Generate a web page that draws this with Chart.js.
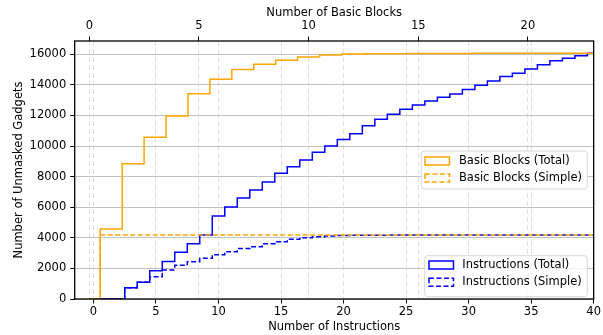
<!DOCTYPE html>
<html>
<head>
<meta charset="utf-8">
<script src="https://cdn.jsdelivr.net/npm/chart.js@4/dist/chart.umd.min.js"></script>
<style>
  html, body { margin: 0; padding: 0; background: #fff; }
</style>
</head>
<body>
<canvas id="chart" width="603" height="335"></canvas>
<script>
// Basic blocks per gadget (top axis)
const blockCounts = [0, 1, 2, 3, 4, 5, 6, 7, 8, 9, 10, 11, 12, 13, 14, 15, 16, 17, 18, 19, 20, 21, 22, 23];
const blocksTotal = [0, 4570, 8850, 10570, 11960, 13420, 14370, 15000, 15350, 15610, 15820, 15950, 16010,
  16030, 16040, 16045, 16050, 16055, 16058, 16060, 16062, 16063, 16064, 16064];
const blocksSimple = [0, 4185, 4185, 4185, 4185, 4185, 4185, 4185, 4185, 4185, 4185, 4185, 4185,
  4185, 4185, 4185, 4185, 4185, 4185, 4185, 4185, 4185, 4185, 4185];

// Instructions per gadget (bottom axis)
const instrCounts = [0, 1, 2, 3, 4, 5, 6, 7, 8, 9, 10, 11, 12, 13, 14, 15, 16, 17, 18, 19, 20,
  21, 22, 23, 24, 25, 26, 27, 28, 29, 30, 31, 32, 33, 34, 35, 36, 37, 38, 39, 40];
const instrTotal = [0, 0, 0, 740, 1100, 1840, 2450, 3050, 3620, 4185, 5430, 6020, 6600, 7130, 7650,
  8220, 8650, 9090, 9590, 10010, 10420, 10810, 11330, 11750, 12080, 12400, 12690, 12950, 13190,
  13400, 13690, 13970, 14250, 14540, 14760, 15040, 15320, 15580, 15740, 15910, 16064];
const instrSimple = [0, 0, 0, 740, 1100, 1460, 1896, 2200, 2441, 2660, 2900, 3095, 3300, 3422, 3620,
  3750, 3900, 4010, 4076, 4120, 4145, 4160, 4170, 4175, 4180, 4185, 4185, 4185, 4185, 4185,
  4185, 4185, 4185, 4185, 4185, 4185, 4185, 4185, 4185, 4185, 4185];

// tick values
const instrTicks = [0, 5, 10, 15, 20, 25, 30, 35, 40];
const blockTicks = [0, 5, 10, 15, 20];
const gadgetTicks = [0, 2000, 4000, 6000, 8000, 10000, 12000, 14000, 16000];

const FONT = { family: "'DejaVu Sans'", size: 11.5 };

const toPoints = (xs, ys) => xs.map((x, i) => ({ x: x, y: ys[i] }));
const fixTicks = vals => scale => { scale.ticks = vals.map(v => ({ value: v })); };
const plain = v => String(v);

// black frame around the plot, like matplotlib spines
const frame = {
  id: "frame",
  afterDatasetsDraw(chart) {
    const { ctx, chartArea: a } = chart;
    ctx.save();
    ctx.strokeStyle = "#000";
    ctx.lineWidth = 1.3;
    ctx.strokeRect(a.left, a.top, a.right - a.left, a.bottom - a.top);
    ctx.restore();
  }
};

// two separate legend boxes drawn inside the plot
const legendBoxes = {
  id: "legendBoxes",
  afterDraw(chart, args, opts) {
    const { ctx, chartArea: a } = chart;
    opts.boxes.forEach(b => {
      const x = a.right - b.right - b.width;
      const y = b.top != null ? a.top + b.top : a.bottom - b.bottom - b.height;
      ctx.save();
      ctx.beginPath();
      const r = 3;
      ctx.moveTo(x + r, y);
      ctx.arcTo(x + b.width, y, x + b.width, y + b.height, r);
      ctx.arcTo(x + b.width, y + b.height, x, y + b.height, r);
      ctx.arcTo(x, y + b.height, x, y, r);
      ctx.arcTo(x, y, x + b.width, y, r);
      ctx.closePath();
      ctx.fillStyle = "rgba(255,255,255,0.8)";
      ctx.fill();
      ctx.strokeStyle = "#d6d6d6";
      ctx.lineWidth = 1;
      ctx.stroke();

      b.datasets.forEach((di, row) => {
        const ds = chart.data.datasets[di];
        const cy = y + b.rowY[row];
        ctx.strokeStyle = ds.borderColor;
        ctx.lineWidth = ds.borderWidth;
        ctx.setLineDash(ds.borderDash || []);
        ctx.strokeRect(x + b.handleX, cy - 4, 24.5, 8);
        ctx.setLineDash([]);
        ctx.fillStyle = "#000";
        ctx.font = "11.5px 'DejaVu Sans'";
        ctx.textBaseline = "middle";
        ctx.fillText(ds.label, x + b.textX, cy);
      });
      ctx.restore();
    });
  }
};

const ctx = document.getElementById("chart").getContext("2d");

new Chart(ctx, {
  type: "line",
  data: {
    datasets: [
      {
        label: "Basic Blocks (Total)",
        data: toPoints(blockCounts, blocksTotal),
        xAxisID: "x2",
        borderColor: "#ffa500",
        borderWidth: 1.5,
        stepped: "middle",
        pointRadius: 0,
      },
      {
        label: "Basic Blocks (Simple)",
        data: toPoints(blockCounts, blocksSimple),
        xAxisID: "x2",
        borderColor: "#ffa500",
        borderWidth: 1.5,
        borderDash: [5, 2.5],
        stepped: "middle",
        pointRadius: 0,
      },
      {
        label: "Instructions (Total)",
        data: toPoints(instrCounts, instrTotal),
        xAxisID: "x",
        borderColor: "#0000ff",
        borderWidth: 1.5,
        stepped: "middle",
        pointRadius: 0,
      },
      {
        label: "Instructions (Simple)",
        data: toPoints(instrCounts, instrSimple),
        xAxisID: "x",
        borderColor: "#0000ff",
        borderWidth: 1.5,
        borderDash: [5, 2.5],
        stepped: "middle",
        pointRadius: 0,
      },
    ],
  },
  options: {
    responsive: false,
    animation: false,
    devicePixelRatio: 1,
    layout: { padding: { left: 0, top: 0, right: 8.3, bottom: 0 } },
    scales: {
      x: {
        type: "linear",
        position: "bottom",
        min: -1.5,
        max: 40,
        afterBuildTicks: fixTicks(instrTicks),
        ticks: { color: "#000", font: FONT, padding: 2, maxRotation: 0, autoSkip: false, callback: plain },
        grid: { color: "#dedede", lineWidth: 1, tickColor: "#000", tickLength: 4.5, tickWidth: 1 },
        border: { display: false, dash: [5, 3] },
        title: { display: true, text: "Number of Instructions", color: "#000", font: FONT, padding: { top: 0, bottom: 1.2 } },
        afterFit: s => { s.height = 36; },
      },
      x2: {
        type: "linear",
        position: "top",
        min: -0.665,
        max: 23,
        afterBuildTicks: fixTicks(blockTicks),
        ticks: { color: "#000", font: FONT, padding: 3.5, maxRotation: 0, autoSkip: false, callback: plain },
        grid: { color: "#dedede", lineWidth: 1, tickColor: "#000", tickLength: 4.5, tickWidth: 1 },
        border: { display: false, dash: [5, 3] },
        title: { display: true, text: "Number of Basic Blocks", color: "#000", font: FONT, padding: { top: 6.4, bottom: 0 } },
        afterFit: s => { s.height = 41; },
      },
      y: {
        type: "linear",
        min: 0,
        max: 16867,
        afterBuildTicks: fixTicks(gadgetTicks),
        ticks: { color: "#000", font: FONT, padding: 4, autoSkip: false, callback: plain },
        grid: { color: "#c2c2c2", lineWidth: 1, tickColor: "#000", tickLength: 4.5, tickWidth: 1 },
        border: { display: false },
        title: { display: true, text: "Number of Unmasked Gadgets", color: "#000", font: FONT, padding: { top: 12.4, bottom: 0 } },
        afterFit: s => { s.width = 74.7; },
      },
    },
    plugins: {
      legend: { display: false },
      tooltip: { enabled: false },
      legendBoxes: {
        boxes: [
          { datasets: [0, 1], right: 6.4, top: 110, width: 166, height: 38, handleX: 3.7, textX: 37.7, rowY: [10, 27] },
          { datasets: [2, 3], right: 6.4, bottom: 2.3, width: 162.6, height: 41, handleX: 4.3, textX: 37.6, rowY: [9.3, 26.6] },
        ],
      },
    },
  },
  plugins: [frame, legendBoxes],
});
</script>
</body>
</html>
